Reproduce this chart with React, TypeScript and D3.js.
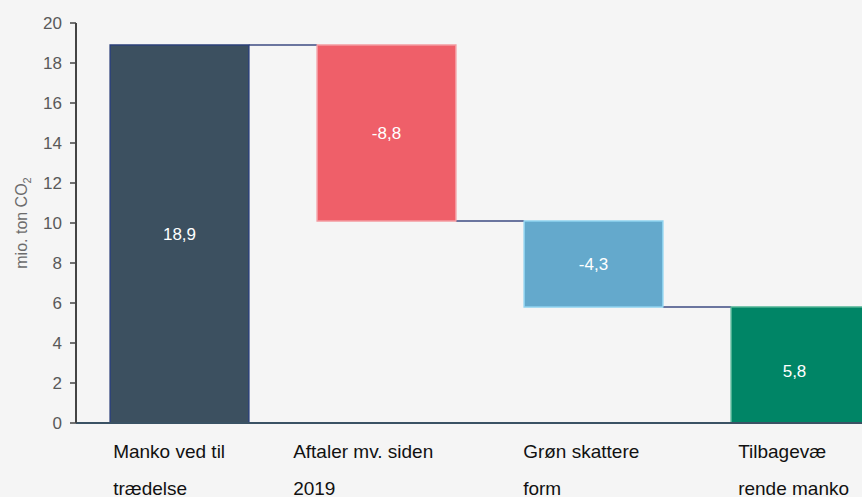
import React from 'react';
import * as d3 from 'd3';

// waterfall data
const categories = ['Manko ved til trædelse', 'Aftaler mv. siden 2019', 'Grøn skattereform', 'Tilbageværende manko'];
const labelLines = [
    ['Manko ved til', 'trædelse'],
    ['Aftaler mv. siden', '2019'],
    ['Grøn skattere', 'form'],
    ['Tilbagevæ', 'rende manko'],
];
const changes = [18.9, -8.8, -4.3, 5.8];
const isTotal = [true, false, false, true];
const valueLabels = ['18,9', '-8,8', '-4,3', '5,8'];
const barColors = ['#3c5060', '#ef5f69', '#64a9cc', '#008566'];
const barStrokes = ['#2a3f78', '#f49aa0', '#8fd3f0', '#4fb394'];
const yTicks = [0, 2, 4, 6, 8, 10, 12, 14, 16, 18, 20];

// small shift of the wrapped category labels relative to the bar start
const labelShift = [3, -24, -1, 7];

const W = 862;
const H = 497;
const FONT = 'Liberation Sans, Arial, sans-serif';

const App = () => {
    const x = d3.scaleBand<string>()
        .domain(categories)
        .range([76, 904])
        .paddingInner(0.33)
        .paddingOuter(0.165);

    const y = d3.scaleLinear().domain([0, 20]).range([423, 23]);

    // running totals for the floating bars
    let running = 0;
    const bars = categories.map((c, i) => {
        let lo: number, hi: number;
        if (isTotal[i]) {
            lo = 0;
            hi = changes[i];
            running = changes[i];
        } else {
            const next = running + changes[i];
            lo = Math.min(running, next);
            hi = Math.max(running, next);
            running = next;
        }
        return { c, i, lo, hi, end: running };
    });

    return (
        <svg width={W} height={H} style={{ position: 'absolute', left: 0, top: 0, background: '#f5f5f5' }}
            fontFamily={FONT}>
            <rect x={0} y={0} width={W} height={H} fill="#f5f5f5" />

            {/* connectors */}
            {bars.slice(0, -1).map(b => (
                <line key={'c' + b.i}
                    x1={x(b.c)! + x.bandwidth()} x2={x(categories[b.i + 1])!}
                    y1={y(b.end)} y2={y(b.end)}
                    stroke="#3d4a82" strokeWidth={1.5} />
            ))}

            {/* bars */}
            {bars.map(b => (
                <rect key={b.c}
                    x={x(b.c)} y={y(b.hi)}
                    width={x.bandwidth()} height={y(b.lo) - y(b.hi)}
                    fill={barColors[b.i]} stroke={barStrokes[b.i]} strokeWidth={1.5} />
            ))}

            {/* value labels */}
            {bars.map(b => (
                <text key={'v' + b.i}
                    x={x(b.c)! + x.bandwidth() / 2 - (b.i === 3 ? 6 : 0)}
                    y={(y(b.hi) + y(b.lo)) / 2 + (b.i === 3 ? 6 : 0)}
                    dy="0.35em" textAnchor="middle" fill="#ffffff" fontSize={17}>
                    {valueLabels[b.i]}
                </text>
            ))}

            {/* baseline */}
            <line x1={76} x2={W} y1={y(0)} y2={y(0)} stroke="#3a5264" strokeWidth={2} />

            {/* y axis */}
            <line x1={76} x2={76} y1={y(20)} y2={y(0)} stroke="#444" strokeWidth={2} />
            {yTicks.map(t => (
                <g key={t} transform={`translate(0,${y(t)})`}>
                    <line x1={70} x2={76} stroke="#444" strokeWidth={1.5} />
                    <text x={62} dy="0.35em" textAnchor="end" fill="#595959" fontSize={17}>{t}</text>
                </g>
            ))}

            {/* y axis title */}
            <text transform={`translate(27,${y(10)}) rotate(-90)`} textAnchor="middle" fill="#6b6b6b" fontSize={16}>
                mio. ton CO<tspan fontSize={11} dy={4}>2</tspan>
            </text>

            {/* category labels */}
            {labelLines.map((lines, i) => (
                <text key={'l' + i} x={x(categories[i])! + labelShift[i]} y={458} fill="#111" fontSize={19}>
                    {lines.map((ln, j) => (
                        <tspan key={j} x={x(categories[i])! + labelShift[i]} dy={j === 0 ? 0 : 37}>{ln}</tspan>
                    ))}
                </text>
            ))}
        </svg>
    );
};

export default App;
